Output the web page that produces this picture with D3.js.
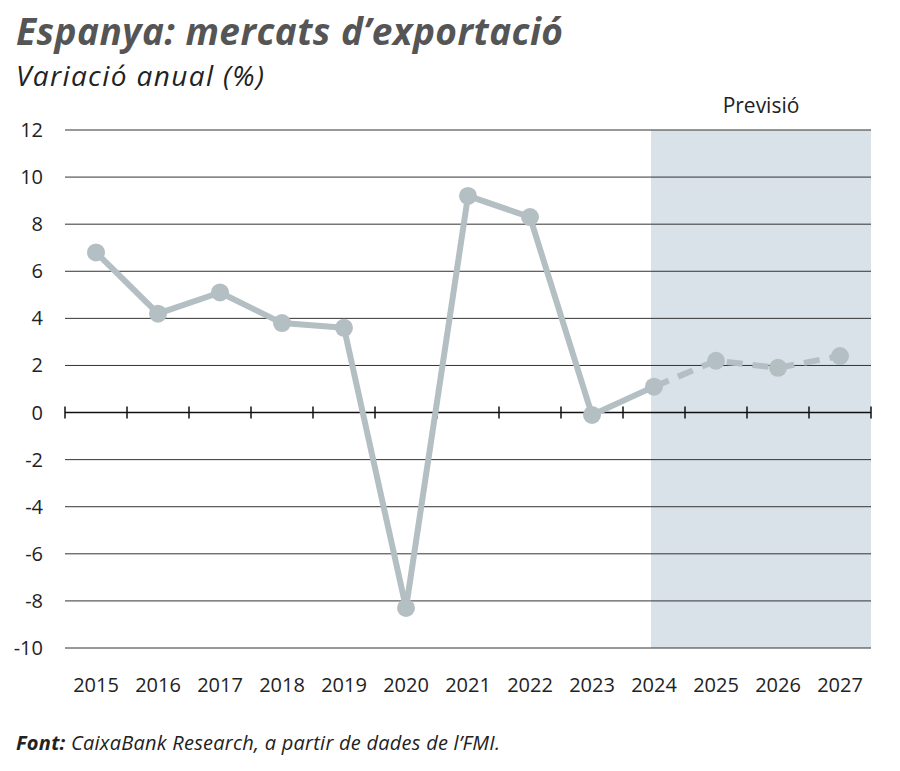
<!DOCTYPE html>
<html><head><meta charset="utf-8">
<script src="https://cdn.jsdelivr.net/npm/d3@7"></script>
<style>body{margin:0;background:#fff;font-family:"Open Sans",sans-serif}</style>
</head><body>
<svg id="svg" width="900" height="771"></svg>
<script>
const years = ['2015','2016','2017','2018','2019','2020','2021','2022','2023','2024','2025','2026','2027'];
const values = [6.8, 4.2, 5.1, 3.8, 3.6, -8.3, 9.2, 8.3, -0.1, 1.1, 2.2, 1.9, 2.4];
const yTicks = [12, 10, 8, 6, 4, 2, 0, -2, -4, -6, -8, -10];
const forecastStart = '2024';

const svg = d3.select('#svg');
const left = 65, right = 871;
const x = d3.scalePoint().domain(years).range([left, right]).padding(0.5);
const step = x.step();
const y = d3.scaleLinear().domain([-10, 12]).range([648, 130]);

svg.append('text').attr('x', 16).attr('y', 45)
  .attr('font-size', 37).attr('font-weight', 'bold').attr('font-style', 'italic')
  .attr('fill', '#555').attr('textLength', 547).text('Espanya: mercats d’exportació');
svg.append('text').attr('x', 16).attr('y', 86)
  .attr('font-size', 28).attr('font-style', 'italic').attr('fill', '#222')
  .attr('textLength', 248).text('Variació anual (%)');

// forecast area
svg.append('rect').attr('x', x(forecastStart) - 3).attr('y', y(12))
  .attr('width', right - x(forecastStart) + 3).attr('height', y(-10) - y(12))
  .attr('fill', '#d9e2e9');
svg.append('text').attr('x', 761).attr('y', 113)
  .attr('text-anchor', 'middle').attr('font-size', 21).attr('fill', '#222').text('Previsió');

// gridlines
svg.selectAll('.grid').data(yTicks.filter(d => d !== 0)).enter().append('line')
  .attr('x1', left).attr('x2', right).attr('y1', d => y(d)).attr('y2', d => y(d))
  .attr('stroke', '#333').attr('stroke-width', 1);
svg.selectAll('.yl').data(yTicks).enter().append('text')
  .attr('x', 43).attr('y', d => y(d) + 7).attr('text-anchor', 'end')
  .attr('font-size', 20).attr('fill', '#222').text(d => d);

// zero axis with ticks
svg.append('line').attr('x1', left).attr('x2', right).attr('y1', y(0)).attr('y2', y(0))
  .attr('stroke', '#111').attr('stroke-width', 1.5);
const bounds = d3.range(years.length + 1).map(i => left + i * step);
svg.selectAll('.tk').data(bounds).enter().append('line')
  .attr('x1', d => d).attr('x2', d => d).attr('y1', y(0) - 6).attr('y2', y(0) + 6)
  .attr('stroke', '#111').attr('stroke-width', 1.5);

svg.selectAll('.xl').data(years).enter().append('text')
  .attr('x', d => x(d)).attr('y', 692).attr('text-anchor', 'middle')
  .attr('font-size', 20).attr('fill', '#222').text(d => d);

const pts = years.map((d, i) => ({ year: d, v: values[i] }));
const fi = years.indexOf(forecastStart);
const line = d3.line().x(d => x(d.year)).y(d => y(d.v));
svg.append('path').datum(pts.slice(0, fi + 1)).attr('d', line)
  .attr('fill', 'none').attr('stroke', '#b4bfc3').attr('stroke-width', 6).attr('stroke-linejoin', 'round');
svg.append('path').datum(pts.slice(fi)).attr('d', line)
  .attr('fill', 'none').attr('stroke', '#b4bfc3').attr('stroke-width', 6).attr('stroke-dasharray', '16,10');
svg.selectAll('circle').data(pts).enter().append('circle')
  .attr('cx', d => x(d.year)).attr('cy', d => y(d.v)).attr('r', 9).attr('fill', '#b4bfc3');

const src = svg.append('text').attr('x', 16).attr('y', 750).attr('font-size', 20)
  .attr('font-style', 'italic').attr('fill', '#222').attr('textLength', 484);
src.append('tspan').attr('font-weight', 'bold').text('Font:');
src.append('tspan').text(' CaixaBank Research, a partir de dades de l’FMI.');
</script>
</body></html>
